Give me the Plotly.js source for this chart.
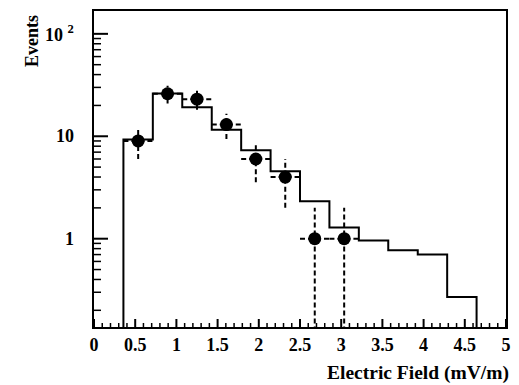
<!DOCTYPE html>
<html>
<head>
<meta charset="utf-8">
<script src="https://cdn.plot.ly/plotly-3.0.1.min.js"></script>
<style>html,body{margin:0;padding:0;background:#fff;}#chart{width:519px;height:385px;}</style>
</head>
<body>
<div id="chart"></div>
<script>
// Histogram (simulation) bin edges and contents
const binEdges = [0.357, 0.714, 1.071, 1.429, 1.786, 2.143, 2.5, 2.857, 3.214, 3.571, 3.929, 4.286, 4.643];
const histCounts = [9.3, 26.1, 19.2, 11.6, 7.3, 4.55, 2.32, 1.29, 0.96, 0.77, 0.70, 0.27];
// Observed data points (bin centres), counts and errors
const dataX = [0.536, 0.893, 1.25, 1.607, 1.964, 2.321, 2.679, 3.036];
const dataY = [9, 26, 23, 13, 6, 4, 1, 1];
const dataErr = [3, 5.1, 4.8, 3.6, 2.45, 2, 1, 1];
// Axis tick labels
const xTickVals = [0, 0.5, 1, 1.5, 2, 2.5, 3, 3.5, 4, 4.5, 5];
const xTickText = ['0', '0.5', '1', '1.5', '2', '2.5', '3', '3.5', '4', '4.5', '5'];
const yTickVals = [1, 10, 100];
const yTickText = ['1', '10', '10 <sup>2</sup>'];

const FLOOR = 0.01;
const PLOT_W = 412, PLOT_H = 316;

// Step histogram outline
const hx = [binEdges[0]];
const hy = [FLOOR];
for (let i = 0; i < histCounts.length; i++) {
  hx.push(binEdges[i]);
  hy.push(histCounts[i]);
}
hx.push(binEdges[binEdges.length - 1]);
hy.push(histCounts[histCounts.length - 1]);
hx.push(binEdges[binEdges.length - 1]);
hy.push(FLOOR);

// Dashed error bars
const ex = [], ey = [];
for (let i = 0; i < dataX.length; i++) {
  ex.push(dataX[i], dataX[i], null);
  ey.push(Math.max(dataY[i] - dataErr[i], FLOOR), dataY[i] + dataErr[i], null);
  ex.push(binEdges[i], binEdges[i + 1], null);
  ey.push(dataY[i], dataY[i], null);
}

// Tick marks (drawn as axis-referenced shapes)
const shapes = [];
function xTick(v, len, w) {
  shapes.push({type: 'line', xref: 'x', yref: 'paper', x0: v, x1: v, y0: 0, y1: len / PLOT_H,
               line: {color: '#000', width: w}, layer: 'above'});
}
function yTick(v, len, w) {
  shapes.push({type: 'line', xref: 'paper', yref: 'y', x0: 0, x1: len / PLOT_W, y0: v, y1: v,
               line: {color: '#000', width: w}, layer: 'above'});
}
xTickVals.forEach(v => xTick(v, 8, 2));
for (let k = 1; k < 50; k++) { if (k % 5 !== 0) xTick(k / 10, 4, 1.5); }
yTickVals.forEach(v => yTick(v, 14, 2));
[0.1, 1, 10].forEach(d => { for (let k = 2; k <= 9; k++) { if (d * k < 170 && d * k > 0.14) yTick(d * k, 7, 1.5); } });

const font = {family: 'Liberation Serif, Times New Roman, serif', size: 18, color: '#000', weight: 'bold'};
const titleFont = {family: 'Liberation Serif, Times New Roman, serif', size: 19.5, color: '#000', weight: 'bold'};

const traces = [
  {x: hx, y: hy, type: 'scatter', mode: 'lines', line: {shape: 'hv', color: '#000', width: 2}, hoverinfo: 'skip'},
  {x: ex, y: ey, type: 'scatter', mode: 'lines', line: {color: '#000', width: 2, dash: '5px,3px'}, hoverinfo: 'skip'},
  {x: dataX, y: dataY, type: 'scatter', mode: 'markers', marker: {color: '#000', size: 13}}
];

const annotations = [
  {text: 'Events', xref: 'paper', yref: 'paper', x: (32.5 - 94) / PLOT_W, y: (326.5 - 41) / PLOT_H,
   xanchor: 'center', yanchor: 'middle', textangle: -90, showarrow: false, font: font},
  {text: 'Electric Field (mV/m)', xref: 'paper', yref: 'paper', x: 1.012, y: (326.5 - 372) / PLOT_H,
   xanchor: 'right', yanchor: 'middle', showarrow: false, font: titleFont}
];
yTickVals.forEach((v, i) => {
  annotations.push({text: yTickText[i], xref: 'paper', yref: 'y', x: (76 - 94) / PLOT_W, y: Math.log10(v),
                    xanchor: 'right', yanchor: 'middle', showarrow: false, font: font});
});

const layout = {
  width: 519, height: 385,
  margin: {l: 94, r: 13, t: 11, b: 58},
  paper_bgcolor: '#fff', plot_bgcolor: '#fff',
  showlegend: false,
  font: font,
  xaxis: {
    range: [0, 5], showgrid: false, zeroline: false,
    showline: true, mirror: true, linecolor: '#000', linewidth: 2,
    ticks: '', tickmode: 'array', tickvals: xTickVals, ticktext: xTickText,
    tickfont: font
  },
  yaxis: {
    type: 'log', range: [-0.862, 2.223], showgrid: false, zeroline: false,
    showline: true, mirror: true, linecolor: '#000', linewidth: 2,
    ticks: '', showticklabels: false
  },
  shapes: shapes,
  annotations: annotations
};

Plotly.newPlot('chart', traces, layout, {displayModeBar: false});
</script>
</body>
</html>
